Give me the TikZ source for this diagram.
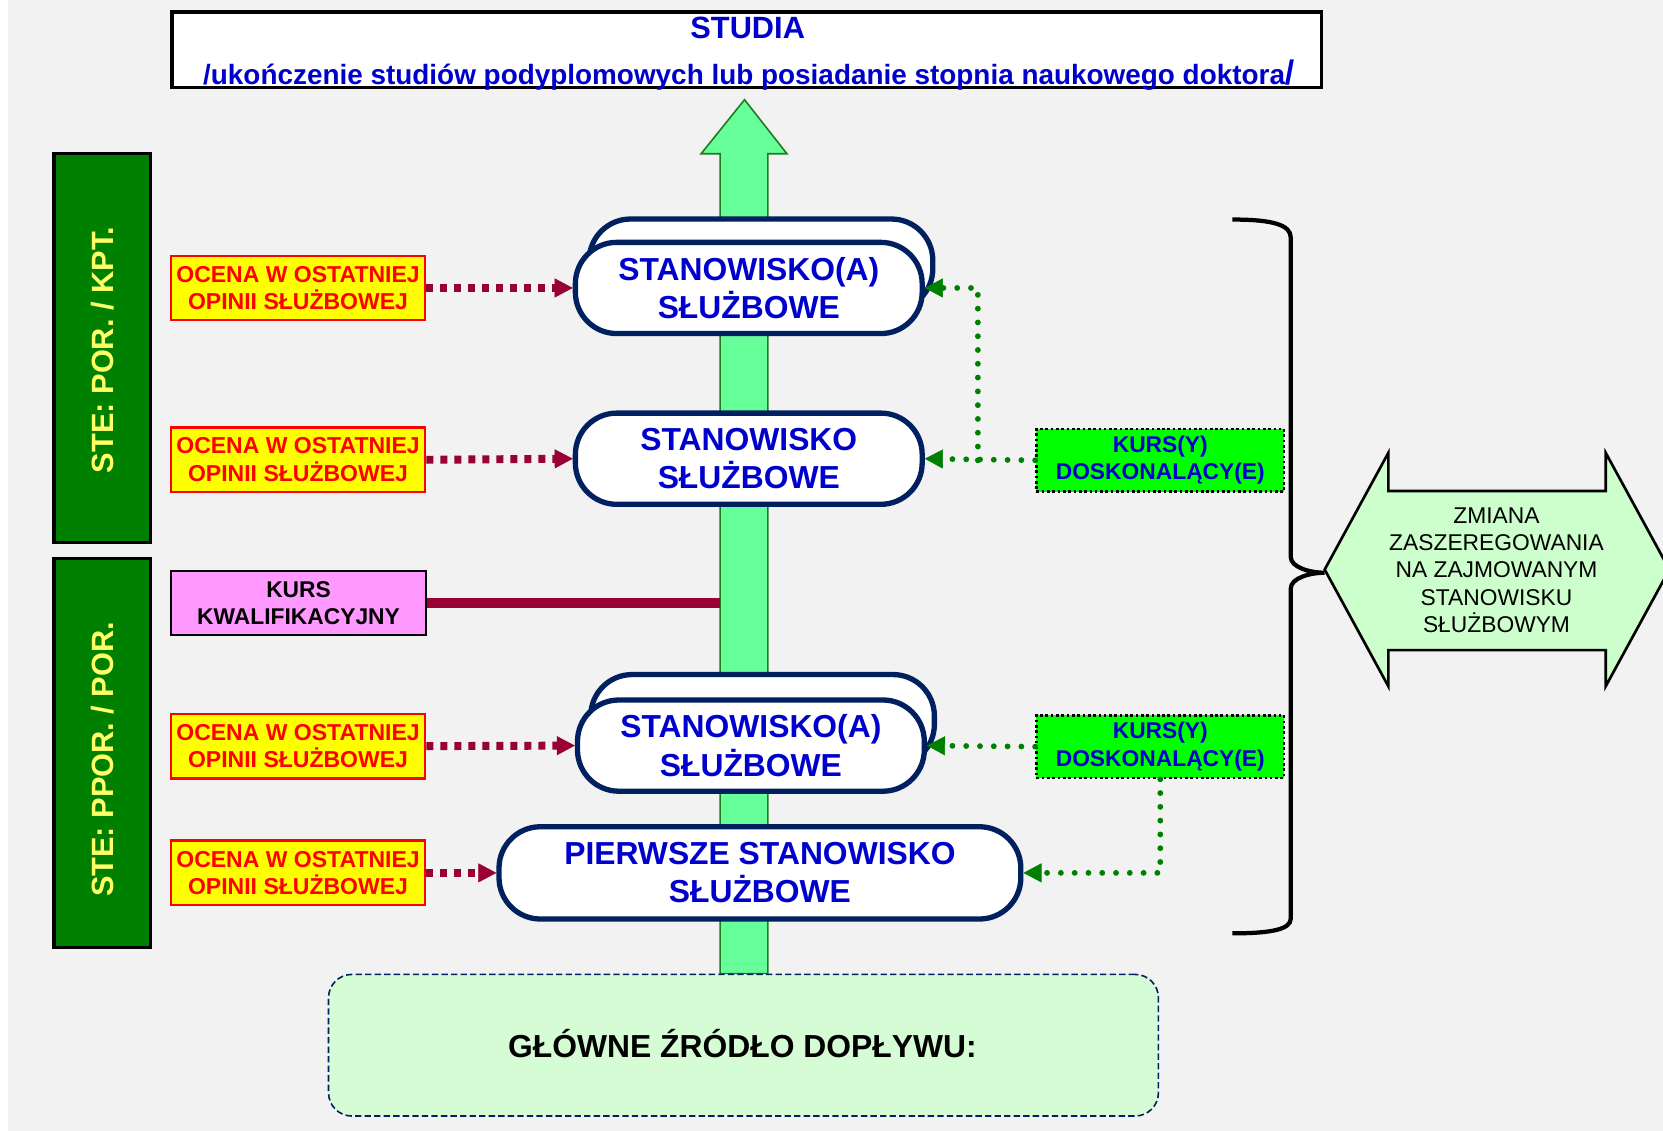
\documentclass[tikz,border=0pt]{standalone}
\usepackage{fontspec}
\setmainfont{Liberation Sans}
\usetikzlibrary{arrows.meta}
\definecolor{bg}{HTML}{F2F2F2}
\definecolor{navy}{HTML}{002060}
\definecolor{blue0}{HTML}{0000CC}
\definecolor{arrowgreen}{HTML}{66FF99}
\definecolor{arrowedge}{HTML}{1E7B1E}
\definecolor{wine}{HTML}{990033}
\definecolor{ocyellow}{HTML}{FFFF00}
\definecolor{ocred}{HTML}{FF0000}
\definecolor{stegreen}{HTML}{008000}
\definecolor{steyellow}{HTML}{FFFF66}
\definecolor{kursgreen}{HTML}{00FF00}
\definecolor{pinkfill}{HTML}{FF99FF}
\definecolor{hexfill}{HTML}{CCFFCC}
\definecolor{bottomfill}{HTML}{D6FCD6}
\definecolor{dgreen}{HTML}{008000}
\begin{document}
\begin{tikzpicture}[x=1pt,y=-1pt,
  stanbox/.style={draw=navy,line width=5pt,fill=white,rounded corners=39pt,text=blue0,
    font=\bfseries\fontsize{30}{36}\selectfont,align=center,inner sep=0pt,minimum height=86pt},
  ocena/.style={draw=ocred,line width=2.5pt,fill=ocyellow,text=ocred,
    font=\bfseries\fontsize{21.7}{26}\selectfont,align=center,inner sep=0pt,
    minimum width=239.5pt,minimum height=60.5pt},
  kursbox/.style={draw=black,line width=2.5pt,dash pattern=on 2.5pt off 2.5pt,fill=kursgreen,text=blue0,
    font=\bfseries\fontsize{21.5}{26}\selectfont,align=center,inner sep=0pt,
    minimum width=233.5pt,minimum height=59pt},
  stebox/.style={draw=black,line width=3pt,fill=stegreen,inner sep=0pt,minimum width=91pt},
  stetext/.style={rotate=90,text=steyellow,font=\bfseries\fontsize{29}{34}\selectfont,inner sep=0pt},
  redarr/.style={draw=wine,line width=7.5pt,dash pattern=on 6.6pt off 6.6pt,
    -{Triangle[length=17pt,width=18pt,line width=0.5pt]}},
  grnline/.style={draw=dgreen,line width=5.5pt,line cap=round,dash pattern=on 0pt off 13pt},
  grnarr/.style={grnline,-{Triangle[length=17pt,width=18pt,line width=0.5pt]}}
]
\useasboundingbox (0,0) rectangle (1568,1066);
\fill[bg] (7.5,0) rectangle (1568,1066);

% top box
\node[draw=black,line width=3.5pt,fill=white,minimum width=1084pt,minimum height=71pt,inner sep=0pt] (top) at (704,47) {};
\node[anchor=base,text=blue0,font=\bfseries\fontsize{29}{34}\selectfont,inner sep=0pt] (studia) at (705,36) {STUDIA};
\node[anchor=base,text=blue0,font=\bfseries\fontsize{26.3}{30}\selectfont,inner sep=0pt] (studia2) at (706,79.5)
  {/ukończenie studiów podyplomowych lub posiadanie stopnia naukowego doktora{\fontsize{32}{34}\selectfont/}};

% big arrow
\draw[fill=arrowgreen,draw=arrowedge,line width=1.5pt] (679,918) -- (679,145) -- (661,145) -- (702,94) -- (742,145) -- (724,145) -- (724,918) -- cycle;

% STE boxes
\node[stebox,minimum height=367pt] (ste1) at (96.5,328) {};
\node[stetext] (ste1t) at (97,330) {STE: POR. / KPT.};
\node[stebox,minimum height=367pt] (ste2) at (96.5,710) {};
\node[stetext] (ste2t) at (97,716) {STE: PPOR. / POR.};

% ocena boxes
\node[ocena] (oc1) at (281,271.5) {OCENA W OSTATNIEJ\\OPINII SŁUŻBOWEJ};
\node[ocena] (oc2) at (281,433.5) {OCENA W OSTATNIEJ\\OPINII SŁUŻBOWEJ};
\node[ocena] (oc3) at (281,703.5) {OCENA W OSTATNIEJ\\OPINII SŁUŻBOWEJ};
\node[ocena] (oc4) at (281,823) {OCENA W OSTATNIEJ\\OPINII SŁUŻBOWEJ};

% kurs kwalifikacyjny
\node[draw=black,line width=2.5pt,fill=pinkfill,text=black,font=\bfseries\fontsize{21.5}{26}\selectfont,
  align=center,inner sep=0pt,minimum width=240.5pt,minimum height=60.5pt] (kk) at (281.5,568.5) {KURS\\KWALIFIKACYJNY};
\coordinate (shaftL) at (679,568.5);
\draw[wine,line width=9pt] (kk.east) -- (shaftL);

% stanowiska
\node[stanbox,minimum width=324pt] (s1b) at (717.5,249.5) {};
\node[stanbox,minimum width=327pt] (s1) at (706,271.5) {STANOWISKO(A)\\SŁUŻBOWE};
\node[stanbox,minimum width=327pt] (s2) at (706,432.5) {STANOWISKO\\SŁUŻBOWE};
\node[stanbox,minimum width=324pt] (s3b) at (719,679) {};
\node[stanbox,minimum width=327pt] (s3) at (708,703) {STANOWISKO(A)\\SŁUŻBOWE};
\node[stanbox,minimum width=492pt,minimum height=87pt] (s4) at (716.5,823) {PIERWSZE STANOWISKO\\SŁUŻBOWE};

% red dotted arrows
\draw[redarr] (oc1.east) -- (s1.west);
\draw[redarr] (oc2.east) -- (s2.west);
\draw[redarr] (oc3.east) -- (s3.west);
\draw[redarr] (oc4.east) -- (s4.west);

% kurs doskonalacy
\node[kursbox] (kd1) at (1094,434) {KURS(Y)\\DOSKONALĄCY(E)};
\node[kursbox] (kd2) at (1094,704) {KURS(Y)\\DOSKONALĄCY(E)};

\coordinate (j1) at (922,434);
\draw[grnarr] (kd1.west) -- (s2.east);
\draw[grnarr] (j1) |- (s1.east);
\draw[grnarr] (kd2.west) -- (s3.east);
\draw[grnarr] (kd2.south) |- (s4.east);

% bottom box
\node[draw=navy,line width=1.5pt,dash pattern=on 6pt off 3pt,fill=bottomfill,rounded corners=22pt,
  minimum width=782.5pt,minimum height=133.5pt,inner sep=0pt] (src) at (701,985.5) {};
\node[font=\bfseries\fontsize{30}{36}\selectfont,text=black,inner sep=0pt] (srct) at (700,984) {GŁÓWNE ŹRÓDŁO DOPŁYWU:};

% brace
\draw[black,line width=4pt] (1162,207) .. controls (1200,207) and (1217,212) .. (1217,224)
  -- (1217,525) .. controls (1217,535) and (1235,540) .. (1249,540)
  .. controls (1235,540) and (1217,545) .. (1217,555)
  -- (1217,866) .. controls (1217,876) and (1200,880) .. (1162,880);

% double arrow
\begin{scope}
\clip (0,0) rectangle (1568,1066);
\draw[fill=hexfill,draw=black,line width=2.5pt,line join=miter] (1249,537) -- (1309,427) -- (1309,463) -- (1514,463) -- (1514,427)
  -- (1574,537) -- (1514,647) -- (1514,613) -- (1309,613) -- (1309,647) -- cycle;
\end{scope}
\node[align=center,text=black,font=\fontsize{21.5}{25.7}\selectfont,inner sep=0pt] (zm) at (1411,537.5)
  {ZMIANA\\ZASZEREGOWANIA\\NA ZAJMOWANYM\\STANOWISKU\\SŁUŻBOWYM};
\end{tikzpicture}
\end{document}
